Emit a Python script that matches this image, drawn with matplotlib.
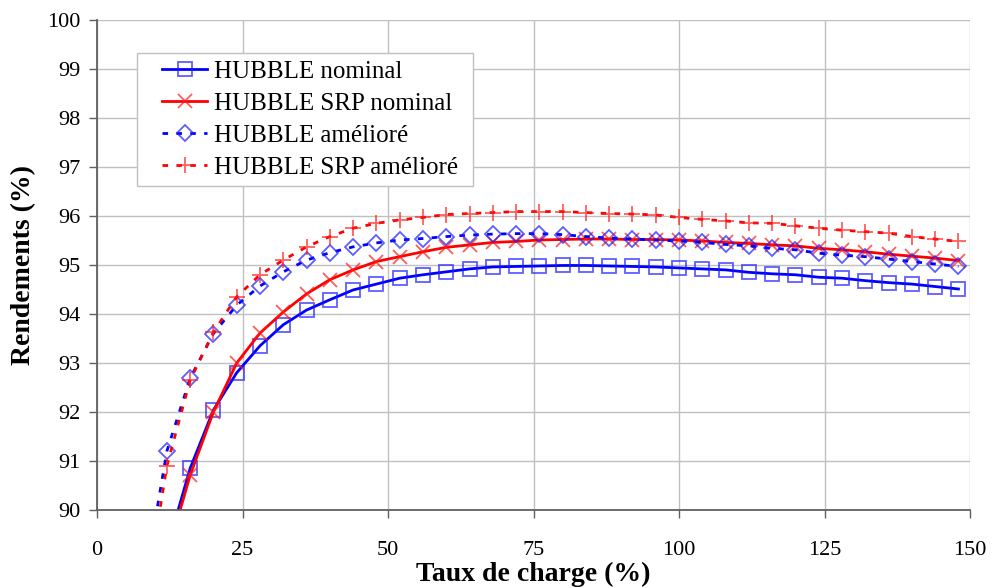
import matplotlib
matplotlib.use('Agg')
import matplotlib.pyplot as plt
from matplotlib.patches import Rectangle

plt.rcParams['font.family'] = ['Liberation Serif', 'DejaVu Serif']

# charge rate (%) sample points
x_nom = [12, 16, 20, 24, 28, 32, 36, 40, 44, 48, 52, 56, 60, 64, 68, 72, 76, 80,
         84, 88, 92, 96, 100, 104, 108, 112, 116, 120, 124, 128, 132, 136, 140, 144, 148]
x_am = [8] + x_nom

hubble_nom = [89.2, 90.85, 92.04, 92.8, 93.35, 93.78, 94.08, 94.29, 94.49, 94.61,
              94.73, 94.8, 94.86, 94.92, 94.96, 94.97, 94.98, 94.99, 94.99, 94.98,
              94.97, 94.96, 94.94, 94.92, 94.9, 94.85, 94.82, 94.8, 94.75, 94.73,
              94.68, 94.64, 94.61, 94.56, 94.51]
srp_nom = [89.05, 90.71, 92.0, 93.0, 93.61, 94.04, 94.41, 94.7, 94.9, 95.07,
           95.17, 95.27, 95.36, 95.41, 95.46, 95.48, 95.51, 95.52, 95.53, 95.53,
           95.52, 95.52, 95.51, 95.49, 95.46, 95.44, 95.41, 95.39, 95.34, 95.31,
           95.27, 95.22, 95.18, 95.14, 95.09]
hubble_am = [88.4, 91.2, 92.69, 93.6, 94.18, 94.57, 94.86, 95.1, 95.25, 95.37,
             95.45, 95.51, 95.54, 95.58, 95.61, 95.63, 95.64, 95.64, 95.62, 95.58,
             95.55, 95.53, 95.51, 95.49, 95.46, 95.42, 95.39, 95.34, 95.31, 95.24,
             95.2, 95.17, 95.12, 95.07, 95.02, 94.97]
srp_am = [87.9, 90.9, 92.65, 93.63, 94.35, 94.8, 95.1, 95.37, 95.58, 95.75,
          95.85, 95.92, 95.97, 96.03, 96.05, 96.07, 96.09, 96.09, 96.09, 96.07,
          96.05, 96.04, 96.02, 95.97, 95.93, 95.9, 95.86, 95.85, 95.8, 95.75,
          95.71, 95.68, 95.65, 95.58, 95.53, 95.48]

labels = ['HUBBLE nominal', 'HUBBLE SRP nominal',
          'HUBBLE amélioré', 'HUBBLE SRP amélioré']

blue = '#0000ff'
red = '#ff0000'
blue_m = (0.1, 0.1, 1.0, 0.7)
red_m = (1.0, 0.1, 0.1, 0.7)
dash = (0, (2, 3))

fig = plt.figure(figsize=(9.93, 5.88), dpi=100)
ax = fig.add_axes([0.0977, 0.1327, 0.8792, 0.8333])

ax.plot(x_nom, hubble_nom, color=blue, lw=2.0, marker='s', ms=9.5,
        mfc='none', mec=blue_m, mew=1.3, label=labels[0])
ax.plot(x_nom, srp_nom, color=red, lw=2.0, marker='x', ms=10,
        mfc='none', mec=red_m, mew=1.3, label=labels[1])
ax.plot(x_am, hubble_am, color=blue, lw=2.0, ls=dash, marker='D', ms=8.5,
        mfc='none', mec=blue_m, mew=1.3, label=labels[2])
ax.plot(x_am, srp_am, color=red, lw=2.0, ls=dash, marker='+', ms=12,
        mfc='none', mec=red_m, mew=1.3, label=labels[3])

ax.set_xlim(0, 150)
ax.set_ylim(90, 100)
ax.set_xticks(range(0, 151, 25))
ax.set_yticks(range(90, 101, 1))
ax.grid(True, color='#c0c0c0', lw=1.0)
ax.set_axisbelow(True)
for s in ['top', 'right']:
    ax.spines[s].set_visible(False)
for s in ['left', 'bottom']:
    ax.spines[s].set_color('#606060')
    ax.spines[s].set_linewidth(1.3)
ax.tick_params(axis='both', direction='out', length=6, width=1.0,
               color='#606060', labelsize=16, pad=6)
ax.tick_params(axis='x', pad=16)

ax.set_xlabel('Taux de charge (%)', fontsize=20, fontweight='bold', labelpad=2)
ax.set_ylabel('Rendements (%)', fontsize=20, fontweight='bold', labelpad=8)

leg = ax.legend(loc='upper left', bbox_to_anchor=(0.075, 0.918), fontsize=18,
                frameon=False, handlelength=1.8, handletextpad=0.25,
                labelspacing=0.38, borderpad=0.0, borderaxespad=0)
leg.set_zorder(6)

# legend frame with wider horizontal padding, as in the original
fig.canvas.draw()
bb = leg.get_window_extent().transformed(fig.transFigure.inverted())
padx, pady = 25 / 993, 7 / 588
ax.add_patch(Rectangle((bb.x0 - padx, bb.y0 - pady),
                       bb.width + 1.6 * padx, bb.height + 2 * pady,
                       transform=fig.transFigure, facecolor='white',
                       edgecolor='#c0c0c0', lw=1.0, zorder=5, clip_on=False))

fig.savefig('out.png', dpi=100)
